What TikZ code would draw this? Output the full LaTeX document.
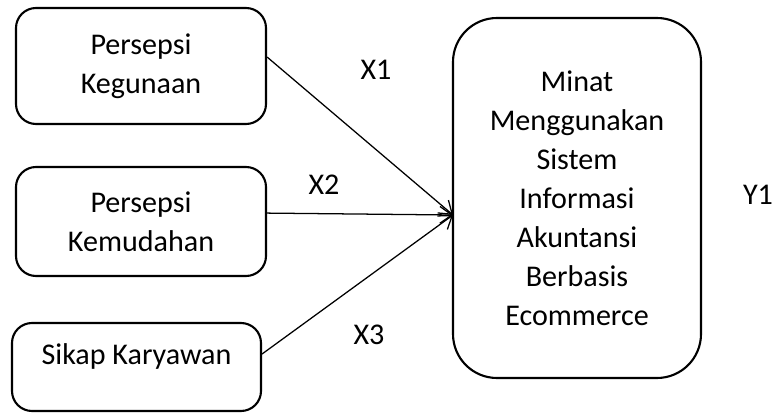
\documentclass[tikz,border=0pt]{standalone}
\usepackage{fontspec}
\setmainfont{Carlito}
\usepackage{tikz}
\usetikzlibrary{positioning,calc,arrows.meta}

\begin{document}
\begin{tikzpicture}[
    varbox/.style={draw, line width=1.5pt, rounded corners=0.5cm, align=center,
        font=\fontsize{21.4}{27.7}\selectfont, minimum width=6.25cm},
    link/.style={line width=0.9pt, -{Straight Barb[length=3mm,width=4.2mm,line width=0.9pt]}},
    lbl/.style={font=\fontsize{21.4}{27.7}\selectfont}
]
    \useasboundingbox (0,0) rectangle (19.425,10.3);

    % Variables
    \node[varbox, minimum height=2.9cm] (keg) at (3.525,8.65) {Persepsi\\Kegunaan};
    \node[varbox, minimum height=2.725cm] (kem) at (3.525,4.7625) {Persepsi\\Kemudahan};
    \node[varbox, minimum width=6.225cm, minimum height=2.2cm, text depth=0.65cm] (sik) at (3.4125,1.125) {Sikap Karyawan};
    \node[varbox, minimum width=6.2cm, minimum height=9cm, rounded corners=1.1cm] (minat) at (14.425,5.35)
        {Minat\\Menggunakan\\Sistem\\Informasi\\Akuntansi\\Berbasis\\Ecommerce};
    \coordinate (hub) at (11.325,4.925);

    % Arrows
    \draw[link] ([yshift=2.25mm]keg.east) -- (hub);
    \draw[link] ([yshift=2.1mm]kem.east) -- (hub);
    \draw[link] ([yshift=3.25mm]sik.east) -- (hub);

    % Labels
    \node[lbl] (x1) at (9.4,8.55) {X1};
    \node[lbl] (x2) at (8.1,5.675) {X2};
    \node[lbl] (x3) at (9.225,1.925) {X3};
    \node[lbl] (y1) at (18.95,5.425) {Y1};
\end{tikzpicture}
\end{document}
